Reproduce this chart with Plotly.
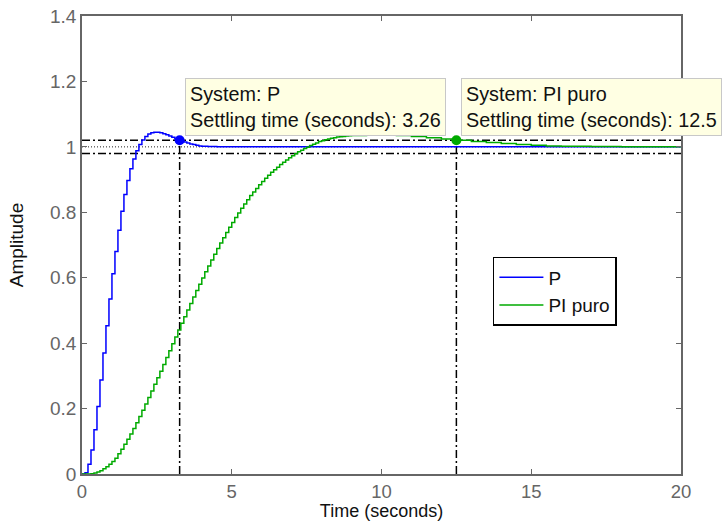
import plotly.graph_objects as go

# Sample period of the discrete step responses (seconds)
Ts = 0.1

# Step response of the P loop, sampled every Ts from t = 0
p_sampled = [0, 0.004, 0.03, 0.073, 0.135, 0.206, 0.287, 0.37, 0.453, 0.535,
             0.612, 0.68, 0.745, 0.803, 0.854, 0.897, 0.933, 0.963, 0.988, 1.007,
             1.021, 1.032, 1.039, 1.043, 1.045, 1.045, 1.043, 1.040, 1.037, 1.033,
             1.029, 1.025, 1.022, 1.018, 1.015, 1.012, 1.009, 1.007, 1.005, 1.003,
             1.002]
p_tail_t = [4.2, 4.5, 5.0, 6.0, 20.0]
p_tail_y = [1.001, 1.0, 1.0, 1.0, 1.0]

# Step response of the pure PI loop, sampled every Ts from t = 0
pi_sampled = [0, 0, 0, 0.001, 0.003, 0.006, 0.010, 0.016, 0.022, 0.030,
              0.038, 0.048, 0.062, 0.076, 0.091, 0.106, 0.122, 0.139, 0.157, 0.176,
              0.195, 0.214, 0.234, 0.254, 0.274, 0.294, 0.314, 0.335, 0.356, 0.377,
              0.398, 0.419, 0.440, 0.461, 0.481, 0.501, 0.521, 0.541, 0.561, 0.580,
              0.599, 0.618, 0.636, 0.654, 0.672, 0.689, 0.706, 0.722, 0.738, 0.754,
              0.769, 0.784, 0.798, 0.812, 0.825, 0.838, 0.851, 0.862, 0.873, 0.884,
              0.894, 0.904, 0.913, 0.922, 0.930, 0.938, 0.946, 0.953, 0.960, 0.967,
              0.973, 0.979, 0.985, 0.990, 0.995, 0.999, 1.004, 1.008, 1.012, 1.016,
              1.019, 1.022, 1.024, 1.026, 1.028, 1.030, 1.031, 1.032, 1.033, 1.034,
              1.035]
pi_tail_t = [9.5, 10.0, 10.5, 11.0, 11.5, 12.0, 12.5, 13.0, 13.5, 14.0, 14.5,
             15.0, 15.5, 16.0, 17.0, 18.0, 20.0]
pi_tail_y = [1.036, 1.036, 1.035, 1.032, 1.028, 1.024, 1.020, 1.016, 1.013,
             1.010, 1.007, 1.005, 1.003, 1.002, 1.001, 1.0, 1.0]

# Settling-time characteristics (2 % band around the final value)
series_names = ["P", "PI puro"]
settling_times = [3.26, 12.5]
settling_level = 1.02
band_levels = [0.98, 1.02]
final_value = 1.0

x_ticks = [0, 5, 10, 15, 20]
y_ticks = [0, 0.2, 0.4, 0.6, 0.8, 1, 1.2, 1.4]
y_tick_text = ["0", "0.2", "0.4", "0.6", "0.8", "1", "1.2", "1.4"]

colors = ["#0000ff", "#00aa00"]
FONT = "Liberation Sans, Arial, Helvetica, sans-serif"
DASHDOT = "8px,3px,2px,3px"


def sample_times(values):
    return [round(i * Ts, 1) for i in range(len(values))]


p_t = sample_times(p_sampled) + p_tail_t
p_y = p_sampled + p_tail_y
pi_t = sample_times(pi_sampled) + pi_tail_t
pi_y = pi_sampled + pi_tail_y

fig = go.Figure()

# Settling band and final-value line
for lvl in band_levels:
    fig.add_trace(go.Scatter(
        x=[0, 20], y=[lvl, lvl], mode="lines", showlegend=False, hoverinfo="skip",
        line=dict(color="black", width=1.5, dash=DASHDOT)))
fig.add_trace(go.Scatter(
    x=[0, 20], y=[final_value, final_value], mode="lines", showlegend=False,
    hoverinfo="skip", line=dict(color="#222222", width=1, dash="1px,2px")))

# Vertical markers at the settling times
for ts in settling_times:
    fig.add_trace(go.Scatter(
        x=[ts, ts], y=[0, settling_level], mode="lines", showlegend=False,
        hoverinfo="skip", line=dict(color="black", width=1.5, dash=DASHDOT)))

# Step responses
fig.add_trace(go.Scatter(x=p_t, y=p_y, mode="lines", name=series_names[0],
                         line=dict(color=colors[0], width=1.5, shape="hv")))
fig.add_trace(go.Scatter(x=pi_t, y=pi_y, mode="lines", name=series_names[1],
                         line=dict(color=colors[1], width=1.5, shape="hv")))

# Settling points
for ts, c in zip(settling_times, colors):
    fig.add_trace(go.Scatter(x=[ts], y=[settling_level], mode="markers",
                             showlegend=False, hoverinfo="skip",
                             marker=dict(color=c, size=10)))

# Data tips
tip_pos = [(3.44, 1.212), (12.66, 1.212)]
for name, ts, (ax_, ay_) in zip(series_names, settling_times, tip_pos):
    fig.add_annotation(
        x=ax_, y=ay_, xref="x", yref="y", xanchor="left", yanchor="top",
        showarrow=False, align="left",
        text=f"System: {name}<br>Settling time (seconds): {ts:g}",
        font=dict(family=FONT, size=19.8, color="#111111"),
        bgcolor="#ffffe3", bordercolor="#c8c8c8", borderwidth=1, borderpad=4)

axis_common = dict(ticks="inside", ticklen=5, tickcolor="#666666", showline=True,
                   linecolor="#666666", linewidth=1.5, mirror="ticks",
                   showgrid=False, zeroline=False, automargin=False)

fig.update_layout(
    width=723, height=521,
    margin=dict(l=82, r=42, t=16, b=47),
    paper_bgcolor="white", plot_bgcolor="white",
    font=dict(family=FONT, size=18, color="#666666"),
    showlegend=True,
    legend=dict(x=0.686, y=0.474, xanchor="left", yanchor="top",
                bgcolor="white", bordercolor="black", borderwidth=1.5,
                font=dict(family=FONT, size=19, color="#111111"),
                tracegroupgap=0, itemwidth=44, traceorder="normal"),
    xaxis=dict(range=[0, 20], tickvals=x_ticks, tickfont=dict(size=18.5),
               title=dict(text="Time (seconds)", font=dict(size=18, color="#111111"),
                          standoff=5),
               **axis_common),
    yaxis=dict(range=[0, 1.4], tickvals=y_ticks, ticktext=y_tick_text,
               tickfont=dict(size=19),
               title=dict(text="Amplitude", font=dict(size=19, color="#111111"),
                          standoff=21),
               **axis_common),
)

fig.write_html("out.html")
